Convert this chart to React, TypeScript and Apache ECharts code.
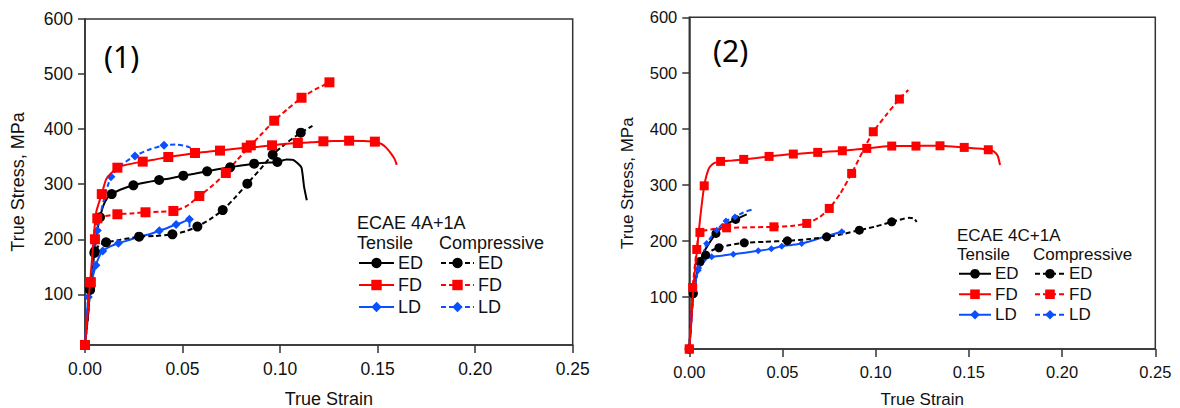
import React, { useEffect, useRef } from "react";
import * as echarts from "echarts";

// ---------- data: [strain, stress, marker(1) / no marker(0)] ----------
// Panel (1): ECAE 4A+1A
const t1ED: number[][] = [
  [0, 8, 1], [0.0015, 60, 0], [0.0026, 108, 1], [0.0038, 145, 0], [0.0048, 175, 1], [0.0062, 215, 0],
  [0.0077, 240, 1], [0.0095, 262, 0], [0.0115, 275, 0], [0.0137, 282, 1], [0.018, 290, 0], [0.0248, 298, 1],
  [0.031, 303, 0], [0.038, 307.6, 1], [0.044, 311, 0], [0.0504, 315.5, 1], [0.056, 319, 0], [0.0626, 323.4, 1],
  [0.068, 327, 0], [0.0744, 330.7, 1], [0.08, 334, 0], [0.0867, 337.3, 1], [0.0925, 339, 0], [0.0986, 340.3, 1],
  [0.1034, 345, 0], [0.1068, 344, 0], [0.109, 338, 0], [0.111, 330, 0], [0.1123, 295, 0], [0.1137, 271, 0],
];
const c1ED: number[][] = [
  [0, 8, 1], [0.0015, 60, 0], [0.0026, 110, 1], [0.0038, 145, 0], [0.005, 178, 1], [0.0075, 190, 0],
  [0.0108, 194.5, 1], [0.018, 199, 0], [0.0277, 204.7, 1], [0.036, 206, 0], [0.0448, 209, 1], [0.052, 215, 0],
  [0.0576, 223, 1], [0.064, 236, 0], [0.0706, 253, 1], [0.077, 276, 0], [0.0832, 301, 1], [0.09, 328, 0],
  [0.0962, 353.6, 1], [0.103, 374, 0], [0.1106, 393.6, 1], [0.1166, 405.7, 0],
];
const t1FD: number[][] = [
  [0, 8, 1], [0.0015, 70, 0], [0.0026, 122, 1], [0.0035, 160, 0], [0.0045, 205, 0], [0.0058, 250, 0],
  [0.0086, 282, 1], [0.011, 310, 0], [0.0166, 330, 1], [0.022, 336, 0], [0.0296, 341, 1], [0.036, 345, 0],
  [0.0427, 349.4, 1], [0.05, 353, 0], [0.0564, 356.7, 1], [0.063, 359, 0], [0.0692, 361, 1], [0.076, 364, 0],
  [0.0829, 366.3, 1], [0.089, 368, 0], [0.0959, 370.6, 1], [0.102, 373, 0], [0.1091, 374.8, 1], [0.116, 376, 0],
  [0.1222, 377.9, 1], [0.129, 378.5, 0], [0.1354, 379, 1], [0.142, 378.5, 0], [0.1486, 377.3, 1], [0.152, 373, 0],
  [0.1545, 366, 0], [0.157, 355, 0], [0.1588, 345, 0], [0.1598, 335, 0],
];
const c1FD: number[][] = [
  [0, 8, 1], [0.0015, 70, 0], [0.003, 122, 1], [0.0051, 200, 1], [0.0063, 238, 1], [0.01, 242, 0],
  [0.0166, 245.4, 1], [0.024, 247, 0], [0.031, 249, 1], [0.038, 250, 0], [0.0453, 251.4, 1], [0.052, 260, 0],
  [0.0586, 278.6, 1], [0.0655, 298, 0], [0.0722, 320.3, 1], [0.078, 344, 0], [0.085, 370.6, 1], [0.091, 393, 0],
  [0.097, 415.3, 1], [0.104, 437, 0], [0.111, 457, 1], [0.118, 472, 0], [0.1253, 485, 1],
];
const t1LD: number[][] = [
  [0, 8, 1], [0.0017, 95, 1], [0.0035, 125, 0], [0.0056, 153, 1], [0.0072, 168, 0], [0.0091, 178.7, 1],
  [0.013, 187, 0], [0.0171, 192.7, 1], [0.022, 198, 0], [0.0274, 204.7, 1], [0.033, 209, 0], [0.0381, 215.6, 1],
  [0.0425, 221, 0], [0.0467, 227, 1], [0.05, 231, 0], [0.0535, 236.3, 1], [0.0536, 222, 0],
];
const c1LD: number[][] = [
  [0, 8, 1], [0.0017, 95, 0], [0.0035, 140, 0], [0.0063, 216, 1], [0.009, 262, 0], [0.0133, 313.6, 1],
  [0.019, 336, 0], [0.0256, 351.2, 1], [0.033, 363, 0], [0.0405, 370.6, 1], [0.047, 372, 0], [0.052, 369, 0],
  [0.0555, 364, 0],
];

// Panel (2): ECAE 4C+1A
const t2ED: number[][] = [
  [0, 7, 1], [0.0021, 106, 1], [0.004, 140, 0], [0.0057, 163, 1], [0.0075, 178, 0], [0.0095, 190, 0],
  [0.0143, 213.6, 1], [0.019, 228, 0], [0.0249, 238.6, 1], [0.0308, 247.6, 0],
];
const c2ED: number[][] = [
  [0, 7, 1], [0.0021, 106, 1], [0.0057, 163, 1], [0.0088, 175, 1], [0.012, 183, 0], [0.0159, 188, 1],
  [0.022, 193, 0], [0.0295, 196.8, 1], [0.04, 198.5, 0], [0.0526, 200.4, 1], [0.063, 203, 0], [0.0737, 207.5, 1],
  [0.082, 212, 0], [0.0912, 219.5, 1], [0.1, 226, 0], [0.1086, 234.4, 1], [0.114, 239, 0], [0.118, 241.5, 0],
  [0.1205, 240, 0], [0.122, 234, 0],
];
const t2FD: number[][] = [
  [0, 7, 1], [0.0012, 60, 0], [0.0022, 118, 0], [0.004, 180, 0], [0.0057, 237, 0], [0.008, 298.7, 1],
  [0.0105, 330, 0], [0.013, 339, 0], [0.0168, 342.4, 1], [0.023, 344, 0], [0.0292, 346, 1], [0.036, 348.5, 0],
  [0.0428, 351.3, 1], [0.049, 353.5, 0], [0.0558, 355.5, 1], [0.062, 357, 0], [0.0689, 358.5, 1], [0.075, 360, 0],
  [0.0821, 361.4, 1], [0.089, 363.5, 0], [0.0952, 365.6, 1], [0.102, 368, 0], [0.1086, 369.8, 1], [0.115, 370, 0],
  [0.1216, 369.8, 1], [0.128, 370.5, 0], [0.1345, 370.3, 1], [0.141, 369, 0], [0.1475, 367.4, 1], [0.154, 365.5, 0],
  [0.1604, 363.2, 1], [0.1635, 360, 0], [0.1655, 352, 0], [0.1667, 336, 0],
];
const c2FD: number[][] = [
  [0, 7, 1], [0.0018, 117, 1], [0.004, 185, 1], [0.0057, 215.4, 1], [0.012, 221, 0], [0.02, 223.6, 1],
  [0.033, 224.5, 0], [0.0454, 225.4, 1], [0.055, 227, 0], [0.063, 231.5, 1], [0.07, 243, 0], [0.0751, 258.3, 1],
  [0.081, 285, 0], [0.0871, 320.9, 1], [0.093, 360, 0], [0.0987, 395.4, 1], [0.106, 427, 0], [0.1127, 453.8, 1],
  [0.1175, 470, 0],
];
const t2LD: number[][] = [
  [0, 7, 1], [0.002, 100, 0], [0.0035, 130, 0], [0.0048, 148, 1], [0.0075, 165.8, 1], [0.012, 171.8, 1],
  [0.018, 174, 0], [0.0236, 176.6, 1], [0.03, 179, 0], [0.037, 182.5, 1], [0.044, 186, 1], [0.0496, 190.9, 1],
  [0.055, 193, 0], [0.0603, 195.6, 1], [0.067, 202, 0], [0.0737, 208.8, 1], [0.0818, 216.5, 1], [0.0835, 217, 0],
];
const c2LD: number[][] = [
  [0, 7, 1], [0.002, 100, 0], [0.0035, 130, 0], [0.005, 152, 1], [0.007, 172, 0], [0.0093, 195.7, 1],
  [0.0147, 219.5, 1], [0.0197, 236, 1], [0.0245, 243, 1], [0.029, 251, 0], [0.0335, 256, 0],
];

const xTickValues = [0, 0.05, 0.1, 0.15, 0.2, 0.25];
const yTickValues = [100, 200, 300, 400, 500, 600];
const yMin = [8, 7];
const panelLabels = ["(1)", "(2)"];
const legendTitles = ["ECAE 4A+1A", "ECAE 4C+1A"];
const groupTitles = ["Tensile", "Compressive"];
const directions = ["ED", "FD", "LD"];

const FONT = '"Liberation Sans", Arial, sans-serif';
const BLACK = "#000000";
const RED = "#ff0000";
const BLUE = "#0a50ff";
const AXIS = "#333333";

function makeSeries(
  name: string,
  pts: number[][],
  color: string,
  symbol: string,
  size: number,
  dashed: boolean,
  idx: number,
  z: number
) {
  return {
    type: "line",
    name,
    xAxisIndex: idx,
    yAxisIndex: idx,
    data: pts.map((p) => ({ value: [p[0], p[1]], symbol: p[2] ? symbol : "none" })),
    symbol,
    symbolSize: size,
    showSymbol: true,
    smooth: 0.2,
    lineStyle: { color, width: 2, type: dashed ? [5, 3] : "solid" },
    itemStyle: { color },
    z,
  };
}

export default function App() {
  const ref = useRef<HTMLDivElement>(null);
  useEffect(() => {
    if (!ref.current) return;
    const chart = echarts.init(ref.current, null, { renderer: "svg" });

    const grids = [
      { left: 85, top: 19, width: 487.7, height: 326 },
      { left: 689.3, top: 17.3, width: 466, height: 331.7 },
    ];
    const tickFont = [17.5, 16.5];
    const nameFont = [18, 17];

    const xAxes = grids.map((_, i) => ({
      type: "value",
      gridIndex: i,
      min: 0,
      max: 0.25,
      interval: 0.05,
      name: "True Strain",
      nameLocation: "middle",
      nameGap: i === 0 ? 45 : 42,
      nameTextStyle: { fontFamily: FONT, fontSize: nameFont[i], color: "#111" },
      axisLine: { show: true, lineStyle: { color: AXIS, width: 1.5 } },
      axisTick: { show: true, length: 8, inside: false, lineStyle: { color: AXIS, width: 1.5 }, customValues: xTickValues },
      axisLabel: {
        margin: i === 0 ? 15 : 14,
        fontFamily: FONT,
        fontSize: tickFont[i],
        color: "#111",
        customValues: xTickValues,
        formatter: (v: number) => v.toFixed(2),
      },
      splitLine: { show: false },
    }));

    const yAxes = grids.map((_, i) => ({
      type: "value",
      gridIndex: i,
      min: yMin[i],
      max: 600,
      name: "True Stress, MPa",
      nameLocation: "middle",
      nameGap: i === 0 ? 58 : 53,
      nameTextStyle: { fontFamily: FONT, fontSize: nameFont[i], color: "#111" },
      axisLine: { show: true, lineStyle: { color: AXIS, width: 1.5 } },
      axisTick: { show: true, length: 7, lineStyle: { color: AXIS, width: 1.5 }, customValues: yTickValues },
      axisLabel: { margin: 12, fontFamily: FONT, fontSize: tickFont[i], color: "#111", customValues: yTickValues },
      splitLine: { show: false },
    }));

    const sym = [
      { c: 10, s: 10, d: 9 },
      { c: 9, s: 9, d: 7 },
    ];
    const sets = [
      { ED: [t1ED, c1ED], FD: [t1FD, c1FD], LD: [t1LD, c1LD] },
      { ED: [t2ED, c2ED], FD: [t2FD, c2FD], LD: [t2LD, c2LD] },
    ];
    const series: any[] = [];
    sets.forEach((set: any, i) => {
      const p = i + 1;
      series.push(makeSeries(`T${p}-ED`, set.ED[0], BLACK, "circle", sym[i].c, false, i, 3));
      series.push(makeSeries(`T${p}-FD`, set.FD[0], RED, "rect", sym[i].s, false, i, 4));
      series.push(makeSeries(`T${p}-LD`, set.LD[0], BLUE, "diamond", sym[i].d, false, i, 3));
      series.push(makeSeries(`C${p}-ED`, set.ED[1], BLACK, "circle", sym[i].c, true, i, 3));
      series.push(makeSeries(`C${p}-FD`, set.FD[1], RED, "rect", sym[i].s, true, i, 3));
      series.push(makeSeries(`C${p}-LD`, set.LD[1], BLUE, "diamond", sym[i].d, true, i, 3));
    });

    const legendCfg = [
      { tx: 358, cx: 440, top: 253, tw: 35, cw: 33, gap: 2, fs: 18, lh: 20, ih: 13 },
      { tx: 958, cx: 1034, top: 264, tw: 32, cw: 30, gap: 1, fs: 17, lh: 19.5, ih: 12 },
    ];
    const legends: any[] = [];
    legendCfg.forEach((L, i) => {
      const p = i + 1;
      ["T", "C"].forEach((k) => {
        legends.push({
          orient: "vertical",
          left: k === "T" ? L.tx : L.cx,
          top: L.top,
          padding: 0,
          itemWidth: k === "T" ? L.tw : L.cw,
          itemHeight: L.ih,
          itemGap: L.gap,
          selectedMode: false,
          data: directions.map((d) => `${k}${p}-${d}`),
          formatter: (n: string) => n.split("-")[1],
          textStyle: { fontFamily: FONT, fontSize: L.fs, lineHeight: L.lh, color: "#111", padding: [0, 0, 0, -1] },
        });
      });
    });

    const graphic: any[] = [
      { type: "text", x: 104, y: 56, style: { text: panelLabels[0], fontFamily: '"Noto Sans", sans-serif', fontSize: 30, fill: "#000", verticalAlign: "middle" } },
      { type: "text", x: 713, y: 50, style: { text: panelLabels[1], fontFamily: '"Noto Sans", sans-serif', fontSize: 30, fill: "#000", verticalAlign: "middle" } },
      { type: "text", x: 357, y: 223, style: { text: legendTitles[0], fontFamily: FONT, fontSize: 18, fill: "#111", verticalAlign: "middle" } },
      { type: "text", x: 357, y: 243, style: { text: groupTitles[0], fontFamily: FONT, fontSize: 18, fill: "#111", verticalAlign: "middle" } },
      { type: "text", x: 439, y: 243, style: { text: groupTitles[1], fontFamily: FONT, fontSize: 18, fill: "#111", verticalAlign: "middle" } },
      { type: "text", x: 957, y: 235, style: { text: legendTitles[1], fontFamily: FONT, fontSize: 17, fill: "#111", verticalAlign: "middle" } },
      { type: "text", x: 957, y: 254, style: { text: groupTitles[0], fontFamily: FONT, fontSize: 17, fill: "#111", verticalAlign: "middle" } },
      { type: "text", x: 1033, y: 254, style: { text: groupTitles[1], fontFamily: FONT, fontSize: 17, fill: "#111", verticalAlign: "middle" } },
    ];

    chart.setOption({
      animation: false,
      backgroundColor: "#ffffff",
      grid: grids.map((g) => ({
        ...g,
        show: true,
        borderColor: AXIS,
        borderWidth: 1.5,
        backgroundColor: "transparent",
        containLabel: false,
        outerBoundsMode: "none",
      })),
      xAxis: xAxes,
      yAxis: yAxes,
      legend: legends,
      series,
      graphic,
    });
    return () => chart.dispose();
  }, []);

  return (
    <div
      ref={ref}
      style={{ position: "absolute", left: 0, top: 0, width: 1180, height: 408, background: "#fff" }}
    />
  );
}
